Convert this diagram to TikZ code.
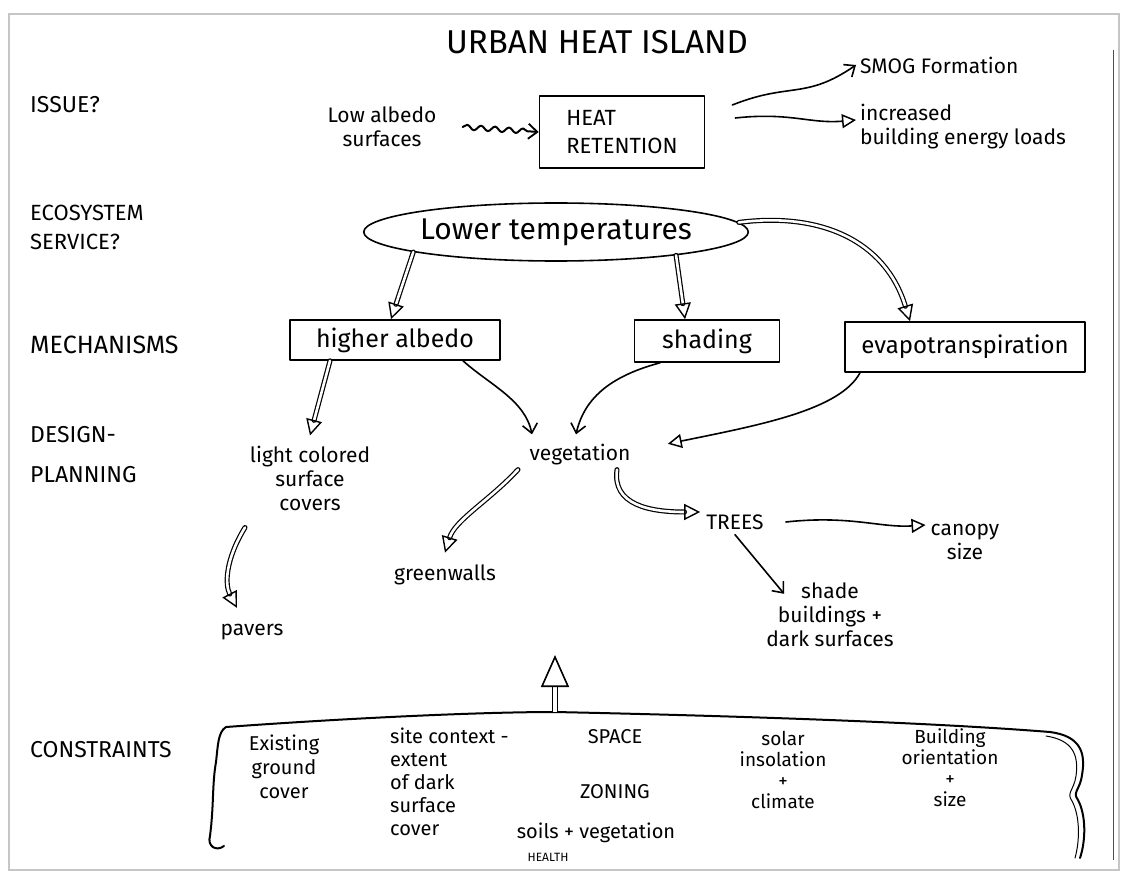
\documentclass[tikz,border=0pt]{standalone}
\usepackage{fontspec}
\setmainfont{Fira Sans}
\usetikzlibrary{arrows.meta,shapes.geometric,decorations.pathmorphing,calc}
\begin{document}
\begin{tikzpicture}[x=1pt,y=-1pt,
  every node/.style={inner sep=2pt},
  fs/.style 2 args={font=\fontsize{#1}{#2}\selectfont},
  pen/.style={line width=1.6pt, line cap=round, line join=round},
  txt/.style={fs={21}{24}, align=center},
  lab/.style={fs={23}{30}, align=left, anchor=west},
  boxed/.style={draw, pen, fs={25}{28}, minimum height=40pt},
  arr/.style={pen, -{Straight Barb[length=9pt,width=15pt,line width=1.6pt]}},
  oarr/.style={pen, -{Triangle[open,length=14pt,width=14pt,line width=1.5pt]}},
  dbl/.style={line width=1.2pt, double distance=2.6pt, line cap=round,
              -{Triangle[open,length=16pt,width=16pt,line width=1.4pt]}},
  brace/.style={line width=2pt, line cap=round, line join=round}
]
\useasboundingbox (0,0) rectangle (1126,877);
% sheet
\draw[gray!45, line width=1.5pt] (9,14) rectangle (1119,870);
\draw[black!70, line width=0.8pt] (1113,50) -- (1113,860);

% title
\node[fs={33}{36}] (title) at (597,42) {URBAN HEAT ISLAND};

% left labels
\node[lab] (issue) at (28,105) {ISSUE?};
\node[lab, fs={22}{29}] (eco) at (28,227) {ECOSYSTEM\\SERVICE?};
\node[lab, fs={25}{30}] (mech) at (28,345) {MECHANISMS};
\node[lab, fs={23}{40}] (design) at (28,455) {DESIGN-\\PLANNING};
\node[lab, fs={23}{30}] (cons) at (28,750) {CONSTRAINTS};

% issue row
\node[txt] (low) at (382,127) {Low albedo\\surfaces};
\node[boxed, minimum width=165pt, minimum height=72pt, align=left, fs={22}{28}] (heat) at (622,132) {HEAT\\RETENTION};
\node[txt, anchor=west] (smog) at (858,65) {SMOG Formation};
\node[txt, anchor=west, align=left] (incr) at (858,127) {increased\\building energy loads};

\draw[pen, line width=2pt, decorate, decoration={snake, amplitude=2.5pt, segment length=14pt, post length=9pt},
      -{Straight Barb[length=9pt,width=15pt,line width=1.8pt]}]
  ([xshift=24pt]low.east) -- (heat.west);
\draw[arr] ([shift={(27pt,27pt)}]heat.east) .. controls (790,82) and (805,100) .. ([xshift=-2pt]smog.west);
\draw[oarr] ([shift={(30pt,14pt)}]heat.east) .. controls (790,112) and (810,124) .. ([shift={(-2pt,7pt)}]incr.west);

% ecosystem service
\node[draw, pen, ellipse, minimum width=345pt, minimum height=58pt, inner sep=0pt, fs={30}{34}] (lower) at (556,232) {Lower temperatures};

% mechanisms
\node[boxed, minimum width=210pt] (alb) at (395,340) {higher albedo};
\node[boxed, minimum width=145pt, minimum height=42pt] (shad) at (707,341) {shading};
\node[boxed, minimum width=240pt, minimum height=50pt, fs={24}{28}] (evap) at (965,347) {evapotranspiration};

\draw[dbl] (lower.188) -- ([xshift=-4pt]alb.north);
\draw[dbl] (lower.349) -- ([xshift=-22pt]shad.north);
\draw[dbl] (lower.3) .. controls (820,212) and (885,240) .. ([xshift=-55pt]evap.north);

% design-planning
\node[txt] (light) at (310,478) {light colored\\surface\\covers};
\node[txt] (veg) at (580,455) {vegetation};
\node[txt] (trees) at (735,522) {TREES};
\node[txt] (canopy) at (965,542) {canopy\\size};
\node[txt] (green) at (445,575) {greenwalls};
\node[txt] (shade) at (830,615) {shade\\buildings +\\dark surfaces};
\node[txt] (pavers) at (252,632) {pavers};

\draw[dbl] ([xshift=-65pt]alb.south) -- ([shift={(0pt,8pt)}]light.north);
\draw[arr] ([xshift=68pt]alb.south) .. controls (490,385) and (525,400) .. ([shift={(-48pt,8pt)}]veg.north);
\draw[arr] ([xshift=-47pt]shad.south) .. controls (615,375) and (585,395) .. ([shift={(-4pt,8pt)}]veg.north);
\draw[oarr, shorten >=36pt] ([xshift=-105pt]evap.south) .. controls (840,410) and (760,425) .. ([yshift=4pt]veg.east);
\draw[dbl] ([shift={(-62pt,-2pt)}]veg.south) .. controls (490,500) and (455,520) .. ([yshift=10pt]green.north);
\draw[dbl] ([shift={(37pt,-2pt)}]veg.south) .. controls (612,505) and (650,512) .. ([shift={(-4pt,10pt)}]trees.west);
\draw[oarr] ([xshift=20pt]trees.east) .. controls (850,515) and (880,528) .. ([shift={(-3pt,17pt)}]canopy.west);
\draw[arr] ([yshift=-3pt]trees.south) -- ([shift={(20pt,-13pt)}]shade.north west);
\draw[dbl] ([shift={(-65pt,-15pt)}]light.south) .. controls (225,560) and (225,585) .. ([shift={(-15pt,14pt)}]pavers.north);

% constraints
\node[txt, fs={20}{24}] (exist) at (284,767) {Existing\\ground\\cover};
\node[txt, fs={20}{23}, align=left, anchor=north west] (site) at (388,726) {site context -\\extent\\of dark\\surface\\cover};
\node[txt, fs={20}{24}] (space) at (615,737) {SPACE};
\node[txt, fs={20}{24}] (zoning) at (615,792) {ZONING};
\node[txt, fs={20}{24}] (soils) at (596,833) {soils + vegetation};
\node[txt, fs={12}{14}] (health) at (548,857) {HEALTH};
\node[txt, fs={19}{21}] (solar) at (783,770) {solar\\insolation\\+\\climate};
\node[txt, fs={19}{21}] (bldg) at (950,768) {Building\\orientation\\+\\size};

\coordinate (peak) at (555,712);
\coordinate (uptip) at (555,655);
\draw[brace] (224,846) .. controls (216,852) and (207,846) .. (210,836)
  .. controls (214,805) and (212,785) .. (216,762)
  .. controls (218,745) and (218,732) .. (226,727)
  .. controls (350,718) and (480,712) .. (peak)
  .. controls (650,714) and (900,720) .. (1050,732)
  .. controls (1080,736) and (1086,752) .. (1082,775)
  .. controls (1080,790) and (1072,792) .. (1078,800)
  .. controls (1086,815) and (1086,840) .. (1080,858);
\draw[line width=1pt, line cap=round] (1046,736)
  .. controls (1072,740) and (1079,754) .. (1076,776)
  .. controls (1074,790) and (1066,793) .. (1072,801)
  .. controls (1080,816) and (1080,840) .. (1075,858);
\draw[line width=1.2pt, double distance=3.5pt,
      -{Triangle[open,length=32pt,width=28pt,line width=1.6pt]}] (peak) -- (uptip);
\end{tikzpicture}
\end{document}
